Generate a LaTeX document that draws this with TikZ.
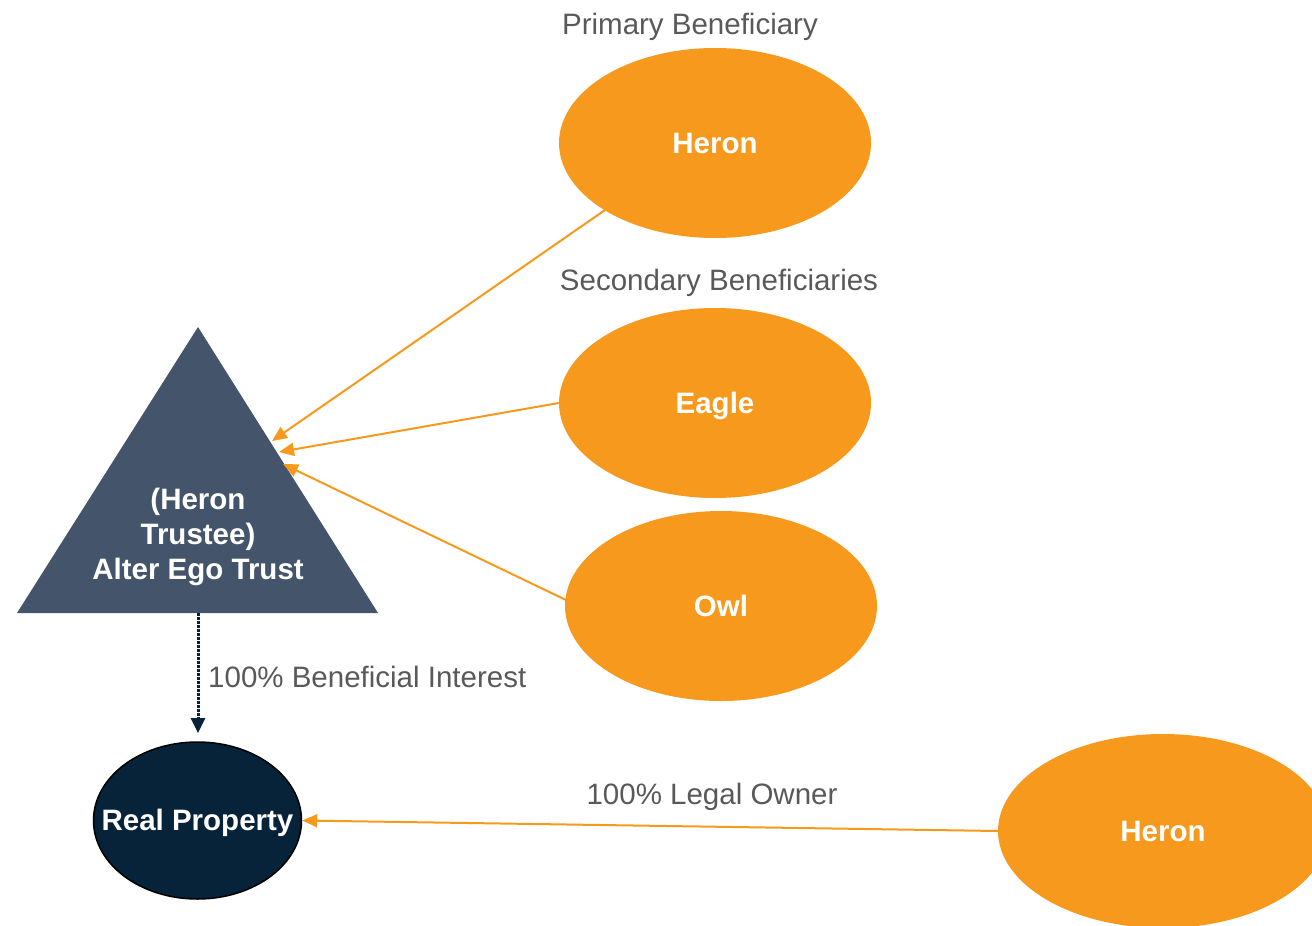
\documentclass[tikz,border=0pt]{standalone}
\usepackage{fontspec}
\setmainfont{Liberation Sans}
\usetikzlibrary{shapes.geometric,arrows.meta}
\definecolor{orng}{HTML}{F7991C}
\definecolor{slate}{HTML}{44546A}
\definecolor{navy}{HTML}{06233A}
\definecolor{lbl}{HTML}{595959}
\tikzset{
  bird/.style={ellipse, fill=orng, minimum width=312pt, minimum height=190pt, inner sep=0pt,
    text=white, font=\fontsize{29.5}{35}\selectfont\bfseries},
  lab/.style={text=lbl, font=\fontsize{29.5}{35}\selectfont, inner sep=0pt},
  oarrow/.style={draw=orng, line width=2pt, -{Triangle[length=15pt,width=13pt]}},
}
\begin{document}
\begin{tikzpicture}[x=1pt,y=-1pt]
\useasboundingbox (0,0) rectangle (1312,926);
\clip (0,0) rectangle (1312,926);
\node[bird] (heron1) at (715,143) {Heron};
\node[bird, text depth=0pt] (eagle) at (715,403) {Eagle};
\node[bird] (owl) at (721,606) {Owl};
\node[bird, minimum width=330pt, minimum height=194pt] (heron2) at (1163,831) {Heron};
\node[lab] (pb) at (690,27) {Primary Beneficiary};
\node[lab] (sb) at (719,283) {Secondary Beneficiaries};
% triangle
\fill[slate] (198,327) coordinate (apex) -- (378,613) coordinate (br) -- (17,613) coordinate (bl) -- cycle;
\node[text=white, font=\fontsize{29.5}{35}\selectfont\bfseries, align=center, inner sep=0pt] (trust) at (198,537) {(Heron\\Trustee)\\Alter Ego Trust};
\coordinate (tbase) at (198,613);
\node[ellipse, fill=navy, draw=black, line width=1.5pt, minimum width=208pt, minimum height=157pt, inner sep=0pt,
  label={[text=white, font=\fontsize{29.5}{35}\selectfont\bfseries, inner sep=0pt, yshift=-2pt]center:Real Property}] (rp) at (197.5,820.5) {};
% arrow targets on triangle edge
\coordinate (t1) at (272,441);
\coordinate (t2) at (279,452);
\coordinate (t3) at (283,464);
\coordinate (h1s) at (605,210);
\coordinate (ows) at (566,600);
\draw[oarrow] (h1s) -- (t1);
\draw[oarrow] (eagle.west) -- (t2);
\draw[oarrow] (ows) -- (t3);
\draw[oarrow] (heron2.west) -- (rp.east);
\draw[navy, line width=3pt, dash pattern=on 2.5pt off 1.5pt, -{Triangle[length=15pt,width=14pt]}] (tbase) -- (198,733);
\node[lab, anchor=west] (bi) at (208,677) {100\% Beneficial Interest};
\node[lab] (lo) at (712,797) {100\% Legal Owner};
\end{tikzpicture}
\end{document}
